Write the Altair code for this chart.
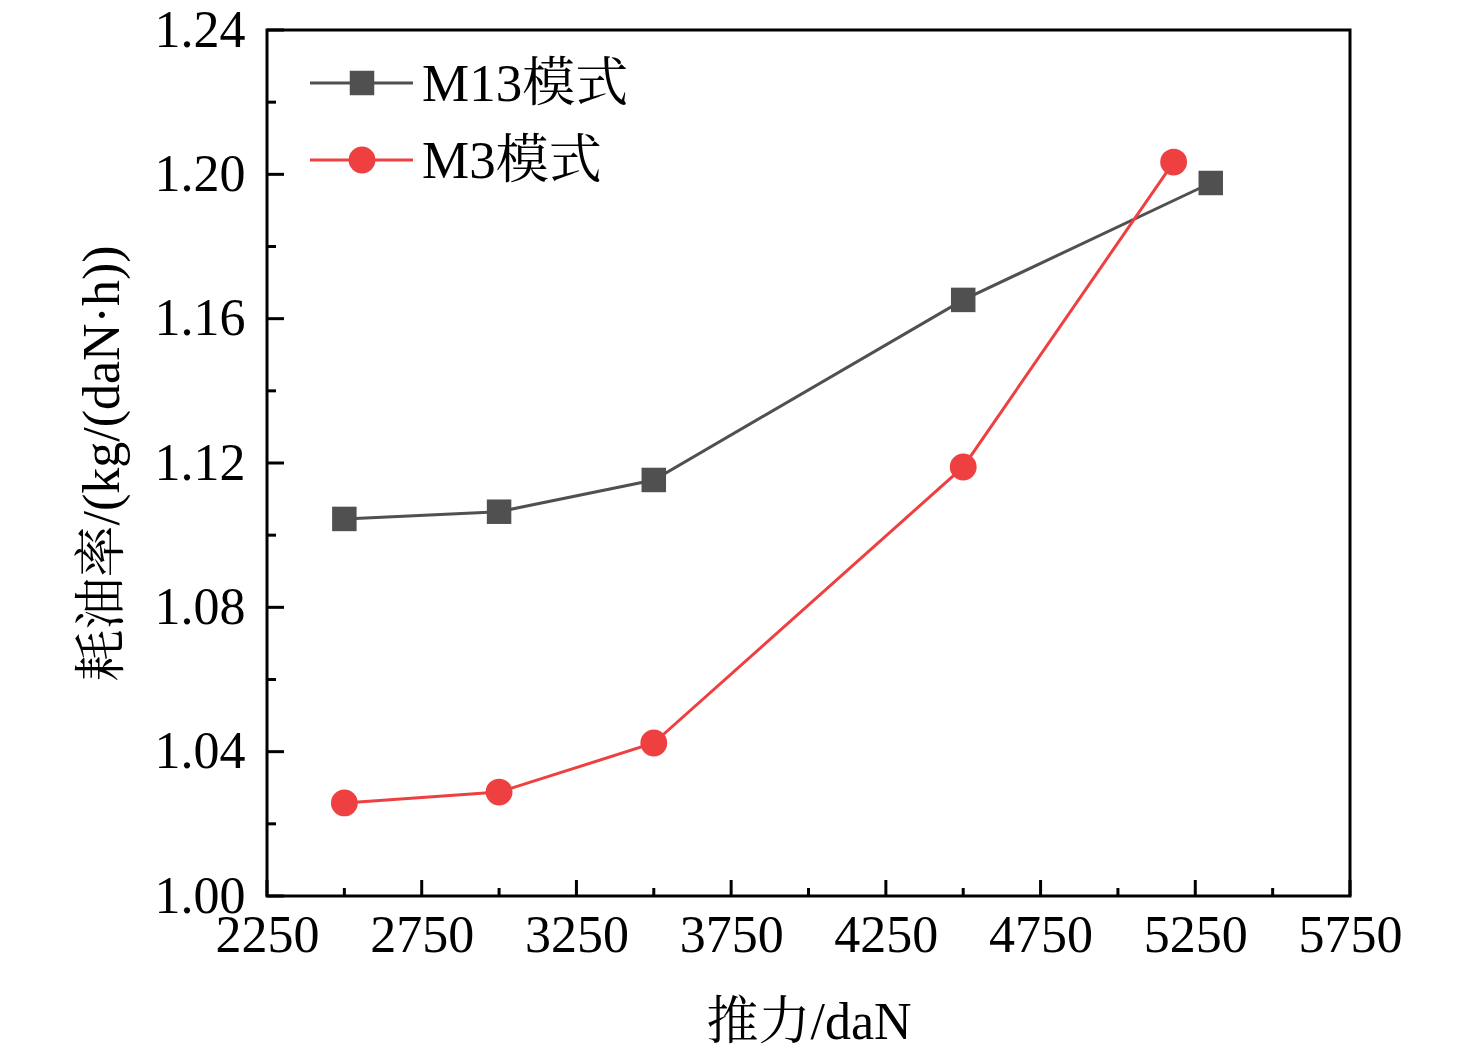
import altair as alt
import pandas as pd

# ---- data ----
series_names = ["M13模式", "M3模式"]
thrust_m13 = [2500, 3000, 3500, 4500, 5300]
sfc_m13 = [1.1045, 1.1065, 1.1153, 1.1652, 1.1976]
thrust_m3 = [2500, 3000, 3500, 4500, 5180]
sfc_m3 = [1.0258, 1.0288, 1.0424, 1.1189, 1.2034]

x_major = [2250, 2750, 3250, 3750, 4250, 4750, 5250, 5750]
x_minor = [2500, 3000, 3500, 4000, 4500, 5000, 5500]
y_major = [1.00, 1.04, 1.08, 1.12, 1.16, 1.20, 1.24]
y_minor = [1.02, 1.06, 1.10, 1.14, 1.18, 1.22]

FONT = "Times New Roman, Liberation Serif, Noto Serif CJK SC, Noto Sans CJK SC"
GRAY = "#505050"
RED = "#ee4040"
W, H = 1083, 866

df = pd.DataFrame(
    {"thrust": thrust_m13 + thrust_m3,
     "sfc": sfc_m13 + sfc_m3,
     "series": [series_names[0]] * len(thrust_m13) + [series_names[1]] * len(thrust_m3)}
)

xscale = alt.Scale(domain=[2250, 5750], nice=False, zero=False)
yscale = alt.Scale(domain=[1.00, 1.24], nice=False, zero=False)
color = alt.Color("series:N", scale=alt.Scale(domain=series_names, range=[GRAY, RED]), legend=None)

xaxis = alt.Axis(values=x_major, format="d", labelFont=FONT, labelFontSize=52, labelColor="black",
                 labelPadding=14, ticks=False, domain=False, grid=False,
                 title="推力/daN", titleFont=FONT, titleFontSize=52, titleFontWeight="normal",
                 titleColor="black", titlePadding=36, labelFlush=False, labelOverlap=False)
yaxis = alt.Axis(values=y_major, format=".2f", labelFont=FONT, labelFontSize=52, labelColor="black",
                 labelPadding=22, ticks=False, domain=False, grid=False,
                 title="耗油率/(kg/(daN·h))", titleFont=FONT, titleFontSize=52, titleFontWeight="normal",
                 titleColor="black", titlePadding=25, labelFlush=False, labelOverlap=False)

base = alt.Chart(df)
lines = base.mark_line(strokeWidth=3).encode(
    x=alt.X("thrust:Q", scale=xscale, axis=xaxis),
    y=alt.Y("sfc:Q", scale=yscale, axis=yaxis),
    color=color, detail="series:N",
)
points_sq = base.transform_filter(alt.datum.series == series_names[0]).mark_point(
    shape="square", filled=True, opacity=1, size=600, color=GRAY
).encode(x=alt.X("thrust:Q", scale=xscale), y=alt.Y("sfc:Q", scale=yscale))
points_ci = base.transform_filter(alt.datum.series == series_names[1]).mark_point(
    shape="circle", filled=True, opacity=1, size=720, color=RED
).encode(x=alt.X("thrust:Q", scale=xscale), y=alt.Y("sfc:Q", scale=yscale))

# inward ticks
xt_major = alt.Chart(pd.DataFrame({"v": x_major})).mark_rule(color="black", strokeWidth=3).encode(
    x=alt.X("v:Q", scale=xscale), y=alt.value(H), y2=alt.value(H - 16))
xt_minor = alt.Chart(pd.DataFrame({"v": x_minor})).mark_rule(color="black", strokeWidth=3).encode(
    x=alt.X("v:Q", scale=xscale), y=alt.value(H), y2=alt.value(H - 8))
yt_major = alt.Chart(pd.DataFrame({"v": y_major})).mark_rule(color="black", strokeWidth=3).encode(
    y=alt.Y("v:Q", scale=yscale), x=alt.value(0), x2=alt.value(17))
yt_minor = alt.Chart(pd.DataFrame({"v": y_minor})).mark_rule(color="black", strokeWidth=3).encode(
    y=alt.Y("v:Q", scale=yscale), x=alt.value(0), x2=alt.value(9))

# legend (manual, top-left inside)
leg_rows = []
for i, (name, col, shp, sz) in enumerate([(series_names[0], GRAY, "square", 600),
                                          (series_names[1], RED, "circle", 720)]):
    yy = 53 + i * 77
    d = alt.Chart(pd.DataFrame({"series": [name]}))
    leg_rows.append(d.mark_rule(color=col, strokeWidth=3).encode(
        x=alt.value(43), x2=alt.value(146), y=alt.value(yy)))
    leg_rows.append(d.mark_point(shape=shp, filled=True, opacity=1, size=sz, color=col).encode(
        x=alt.value(95), y=alt.value(yy)))
    leg_rows.append(d.mark_text(font=FONT, fontSize=53, color="black", align="left",
                                baseline="middle", dy=2).encode(
        x=alt.value(155), y=alt.value(yy), text="series:N"))

chart = alt.layer(
    lines, points_sq, points_ci, xt_major, xt_minor, yt_major, yt_minor, *leg_rows
).properties(
    width=W, height=H,
    autosize=alt.AutoSizeParams(type="none"),
    padding={"left": 259, "top": 22, "right": 110, "bottom": 150},
    background="white",
).configure_view(stroke="black", strokeWidth=3)

chart.save("out.html", embed_options={"renderer": "svg", "actions": False})
